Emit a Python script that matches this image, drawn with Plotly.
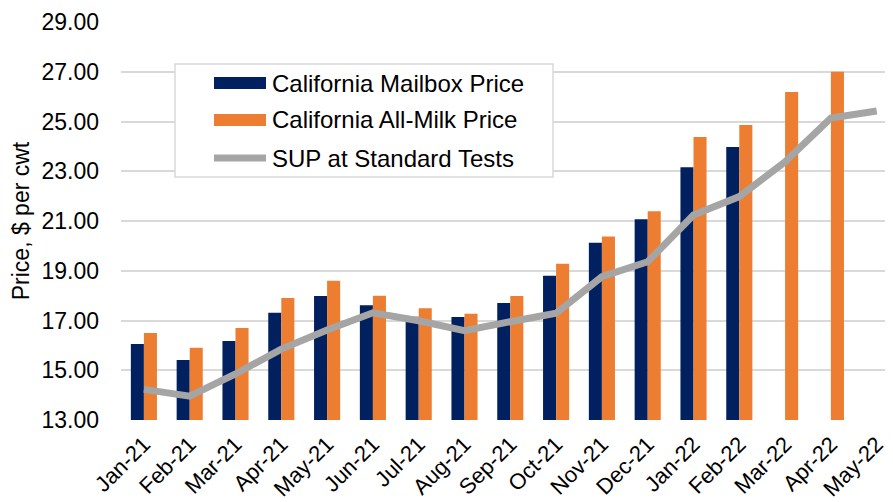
import plotly.graph_objects as go

months = ["Jan-21", "Feb-21", "Mar-21", "Apr-21", "May-21", "Jun-21", "Jul-21", "Aug-21",
          "Sep-21", "Oct-21", "Nov-21", "Dec-21", "Jan-22", "Feb-22", "Mar-22", "Apr-22", "May-22"]
mailbox = [16.06, 15.41, 16.18, 17.31, 17.98, 17.61, 17.15, 17.14,
           17.70, 18.80, 20.13, 21.07, 23.16, 23.97, None, None, None]
all_milk = [16.50, 15.90, 16.70, 17.90, 18.60, 18.00, 17.49, 17.27,
            17.98, 19.28, 20.38, 21.39, 24.38, 24.86, 26.19, 27.00, None]
sup = [14.23, 13.96, 14.85, 15.85, 16.62, 17.31, 16.99, 16.59,
       16.95, 17.29, 18.76, 19.36, 21.24, 21.98, 23.38, 25.14, 25.42]
y_ticks = [13, 15, 17, 19, 21, 23, 25, 27, 29]
legend_names = ["California Mailbox Price", "California All-Milk Price", "SUP at Standard Tests"]

NAVY = "#002060"
ORANGE = "#ED7D31"
GREY = "#A5A5A5"
FONT = "Arial, Liberation Sans, sans-serif"

OFF = 8  # default page body margin
W, H = 893, 502
ML, MT = 121 - OFF, 22 - OFF
MB = H - (420 - OFF)
PW = W - ML
PH = H - MT - MB
UNIT = 45.8
x_hi = -0.5 + PW / UNIT

def fx(px):
    return (px - OFF - ML) / PW

def fy(py):
    return (H - MB - (py - OFF)) / PH

fig = go.Figure()
fig.add_trace(go.Bar(x=months, y=mailbox, name=legend_names[0], marker_color=NAVY,
                     marker_line_width=0, showlegend=False))
fig.add_trace(go.Bar(x=months, y=all_milk, name=legend_names[1], marker_color=ORANGE,
                     marker_line_width=0, showlegend=False))
fig.add_trace(go.Scatter(x=months, y=sup, name=legend_names[2], mode="lines",
                         line=dict(color=GREY, width=7), showlegend=False))

# manual legend
shapes = [dict(type="rect", xref="paper", yref="paper", x0=fx(175), x1=fx(553), y0=fy(177), y1=fy(64),
               fillcolor="white", line=dict(color="#D9D9D9", width=1.5), layer="above")]
row_y = [83, 120, 158]
shapes.append(dict(type="rect", xref="paper", yref="paper", x0=fx(214), x1=fx(266),
                   y0=fy(row_y[0] + 6), y1=fy(row_y[0] - 6), fillcolor=NAVY, line_width=0, layer="above"))
shapes.append(dict(type="rect", xref="paper", yref="paper", x0=fx(214), x1=fx(266),
                   y0=fy(row_y[1] + 6), y1=fy(row_y[1] - 6), fillcolor=ORANGE, line_width=0, layer="above"))
shapes.append(dict(type="line", xref="paper", yref="paper", x0=fx(214), x1=fx(266),
                   y0=fy(row_y[2]), y1=fy(row_y[2]), line=dict(color=GREY, width=7), layer="above"))
annotations = []
for name, ry in zip(legend_names, row_y):
    annotations.append(dict(xref="paper", yref="paper", x=fx(270), y=fy(ry), text=name,
                            showarrow=False, xanchor="left", yanchor="middle",
                            font=dict(family=FONT, size=24, color="#000000")))

fig.update_layout(
    width=W, height=H,
    margin=dict(l=ML, r=0, t=MT, b=MB),
    paper_bgcolor="white", plot_bgcolor="white",
    barmode="group", bargap=0.43, bargroupgap=0,
    font=dict(family=FONT, size=23, color="#000000"),
    shapes=shapes, annotations=annotations,
    xaxis=dict(range=[-0.5, x_hi], tickangle=-45, showgrid=False, showline=False,
               ticks="", automargin=False, ticklabelstandoff=6,
               tickfont=dict(size=22, family=FONT, color="#000000")),
    yaxis=dict(range=[13, 29], tickvals=y_ticks, tickformat=".2f", showgrid=True,
               gridcolor="#D9D9D9", gridwidth=1.5, zeroline=False, showline=False,
               ticks="", ticklabelstandoff=21, automargin=False,
               tickfont=dict(size=23, family=FONT, color="#000000"),
               title=dict(text="Price, $ per cwt", standoff=13,
                          font=dict(size=23, family=FONT, color="#000000"))),
)

fig.write_html("out.html")
